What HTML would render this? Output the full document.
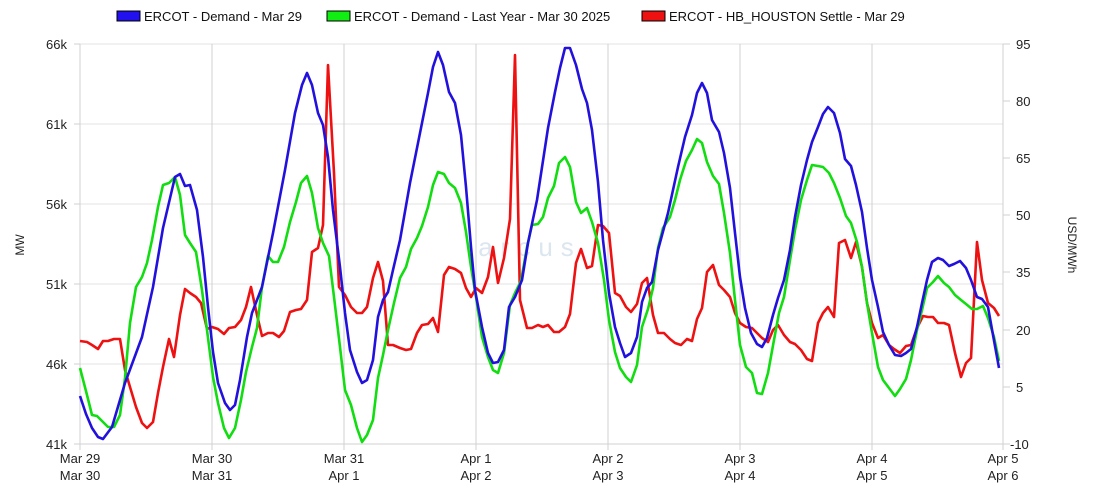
<!DOCTYPE html>
<html><head><meta charset="utf-8"><style>
body{margin:0;background:#fff;}
svg{display:block;font-family:"Liberation Sans",Arial,sans-serif;}
</style></head><body>
<svg width="1100" height="500" viewBox="0 0 1100 500">
<g stroke="#e3e3e3" stroke-width="1">
<line x1="80" y1="44" x2="1003" y2="44"/><line x1="80" y1="124" x2="1003" y2="124"/>
<line x1="80" y1="204" x2="1003" y2="204"/><line x1="80" y1="284" x2="1003" y2="284"/>
<line x1="80" y1="364" x2="1003" y2="364"/>
</g>
<g stroke="#d0d0d0" stroke-width="1">
<line x1="80" y1="44" x2="80" y2="450"/><line x1="212" y1="44" x2="212" y2="450"/>
<line x1="344" y1="44" x2="344" y2="450"/><line x1="476" y1="44" x2="476" y2="450"/>
<line x1="608" y1="44" x2="608" y2="450"/><line x1="740" y1="44" x2="740" y2="450"/>
<line x1="872" y1="44" x2="872" y2="450"/><line x1="1003" y1="44" x2="1003" y2="450"/>
<line x1="80" y1="444" x2="1003" y2="444"/>
<line x1="74" y1="44" x2="80" y2="44"/><line x1="74" y1="124" x2="80" y2="124"/><line x1="74" y1="204" x2="80" y2="204"/><line x1="74" y1="284" x2="80" y2="284"/><line x1="74" y1="364" x2="80" y2="364"/><line x1="74" y1="444" x2="80" y2="444"/>
<line x1="1003" y1="44" x2="1010" y2="44"/><line x1="1003" y1="101" x2="1010" y2="101"/><line x1="1003" y1="158" x2="1010" y2="158"/><line x1="1003" y1="215" x2="1010" y2="215"/><line x1="1003" y1="272" x2="1010" y2="272"/><line x1="1003" y1="330" x2="1010" y2="330"/><line x1="1003" y1="387" x2="1010" y2="387"/><line x1="1003" y1="444" x2="1010" y2="444"/>
</g>
<g font-size="13" fill="#222" text-anchor="end">
<text x="67" y="49">66k</text><text x="67" y="129">61k</text><text x="67" y="209">56k</text><text x="67" y="289">51k</text><text x="67" y="369">46k</text><text x="67" y="449">41k</text>
</g>
<g font-size="13" fill="#222">
<text x="1016" y="49">95</text><text x="1016" y="106">80</text><text x="1016" y="163">65</text><text x="1016" y="220">50</text><text x="1016" y="277">35</text><text x="1016" y="335">20</text><text x="1016" y="392">5</text><text x="1010" y="449">-10</text>
</g>
<text font-size="12" fill="#222" transform="translate(24,245) rotate(-90)" text-anchor="middle">MW</text>
<text font-size="12" fill="#222" transform="translate(1068,245) rotate(90)" text-anchor="middle">USD/MWh</text>
<g font-size="13" fill="#222" text-anchor="middle">
<text x="80" y="463">Mar 29</text><text x="80" y="480">Mar 30</text>
<text x="212" y="463">Mar 30</text><text x="212" y="480">Mar 31</text>
<text x="344" y="463">Mar 31</text><text x="344" y="480">Apr 1</text>
<text x="476" y="463">Apr 1</text><text x="476" y="480">Apr 2</text>
<text x="608" y="463">Apr 2</text><text x="608" y="480">Apr 3</text>
<text x="740" y="463">Apr 3</text><text x="740" y="480">Apr 4</text>
<text x="872" y="463">Apr 4</text><text x="872" y="480">Apr 5</text>
<text x="1003" y="463">Apr 5</text><text x="1003" y="480">Apr 6</text>
</g>
<text x="530" y="256" font-size="26" fill="#dbe6ef" text-anchor="middle" letter-spacing="8">arcus</text>
<g fill="none" stroke-width="2.6" stroke-linejoin="round">
<polyline stroke="#ee1111" points="80,341 87,342 92,345 98,349 103,341 108,341 114,339 120,339 125,370 130,387 136,407 142,423 147,428 153,422 158,393 163,367 169,339 174,357 180,315 185,289 190,293 196,297 201,303 207,329 212,327 218,329 224,334 229,328 235,327 241,320 246,307 251,287 257,315 262,336 268,333 273,333 279,337 284,331 290,312 296,310 301,309 307,300 312,252 318,248 323,225 328,65 334,173 339,287 345,295 351,307 357,313 362,313 367,307 373,278 378,262 383,281 388,345 393,345 400,348 406,350 411,349 417,333 422,325 428,324 433,318 438,332 444,275 449,267 455,269 461,273 466,288 471,297 476,288 482,293 488,277 493,247 498,283 504,258 510,219 515,55 520,300 527,328 532,328 538,325 543,327 548,325 554,332 559,332 565,327 570,314 576,263 581,249 587,268 592,266 598,225 603,226 609,233 615,293 620,296 626,307 631,312 637,304 642,283 647,278 653,315 658,333 664,333 670,339 675,343 681,345 687,339 692,341 697,319 702,308 707,272 713,265 719,285 724,290 730,297 735,313 740,323 746,327 752,328 757,333 762,338 768,342 773,330 778,325 784,335 790,342 795,344 801,350 807,359 812,361 818,323 823,313 828,307 834,317 839,243 845,240 851,258 856,242 862,267 867,303 872,323 878,338 883,335 889,345 894,349 900,353 906,346 911,345 917,328 923,316 928,317 933,317 938,323 944,323 949,325 955,353 961,377 966,363 971,358 977,242 982,280 988,303 994,308 999,316"/>
<polyline stroke="#11dd11" points="80,368 87,395 92,415 97,416 103,422 108,427 114,427 120,415 125,378 130,323 136,287 142,277 147,263 152,240 158,207 163,185 169,183 175,177 180,195 185,235 190,243 196,252 202,290 207,330 213,377 218,403 224,428 229,438 235,428 241,400 246,372 252,347 257,328 262,287 268,256 273,262 278,262 284,247 290,222 296,202 301,183 307,176 312,193 318,228 323,243 329,256 334,297 340,347 345,390 351,405 357,428 362,442 367,435 373,420 378,378 383,355 388,330 394,303 400,278 406,267 411,249 417,238 422,226 428,207 433,185 438,172 444,174 449,183 455,188 461,203 466,232 471,267 476,297 482,337 488,357 493,370 498,373 504,353 510,305 515,293 521,281 527,247 532,225 538,224 543,217 548,198 554,186 559,163 565,157 570,167 576,202 581,213 587,208 592,222 598,243 604,280 609,320 615,352 620,368 626,377 631,382 637,365 642,327 648,309 653,288 658,248 663,228 670,217 675,200 680,180 686,161 692,150 697,139 702,143 707,162 713,176 719,184 724,213 730,253 735,300 740,345 746,367 752,373 757,393 762,394 768,373 774,340 779,313 784,297 790,260 795,230 801,200 807,180 812,165 818,166 823,167 829,173 834,183 840,198 846,216 851,223 857,242 862,267 867,303 872,333 878,367 883,380 889,388 895,396 900,389 906,379 911,360 917,330 922,310 927,288 933,282 938,276 944,283 949,287 955,295 961,300 966,304 972,309 977,309 983,306 988,318 994,337 999,361"/>
<polyline stroke="#2211dd" points="80,396 86,414 92,428 98,437 103,439 112,427 125,383 142,337 153,287 163,228 175,177 180,174 185,186 190,185 197,210 203,257 208,307 213,352 218,383 225,403 230,410 235,405 240,380 247,337 252,313 262,287 273,233 285,170 295,113 302,85 307,73 312,85 318,113 323,125 328,157 333,210 340,267 345,313 350,350 357,372 362,383 367,380 373,360 378,317 383,300 388,292 393,270 400,240 410,183 422,123 428,93 433,67 438,52 443,65 449,92 455,103 461,135 466,187 471,247 475,290 482,327 488,353 493,363 498,362 504,350 509,307 515,297 522,280 528,243 537,200 548,128 555,92 560,68 565,48 570,48 576,65 582,89 587,103 592,130 598,182 603,240 609,293 615,327 620,343 625,357 631,353 637,337 642,302 647,288 652,282 658,250 668,213 678,167 685,137 692,115 697,93 702,83 707,93 712,120 719,132 724,153 730,188 735,233 740,277 745,308 751,333 757,344 762,347 767,338 773,315 778,298 784,280 790,250 795,217 801,185 807,160 812,142 818,127 823,114 828,107 834,113 840,133 845,159 851,166 856,185 862,212 867,248 872,280 878,307 883,332 889,345 895,355 901,356 906,353 911,349 917,327 922,303 927,280 932,262 938,258 943,260 949,266 954,264 960,261 966,268 971,280 977,297 982,299 988,307 993,335 999,368"/>
</g>
<g font-size="13" fill="#111">
<rect x="117" y="11" width="23" height="10" fill="#2211ee" stroke="#000" stroke-width="1"/>
<text x="144" y="21">ERCOT - Demand - Mar 29</text>
<rect x="327" y="11" width="23" height="10" fill="#11ee11" stroke="#000" stroke-width="1"/>
<text x="354" y="21">ERCOT - Demand - Last Year - Mar 30 2025</text>
<rect x="642" y="11" width="23" height="10" fill="#ee1111" stroke="#000" stroke-width="1"/>
<text x="669" y="21">ERCOT - HB_HOUSTON Settle - Mar 29</text>
</g>
</svg>
</body></html>
